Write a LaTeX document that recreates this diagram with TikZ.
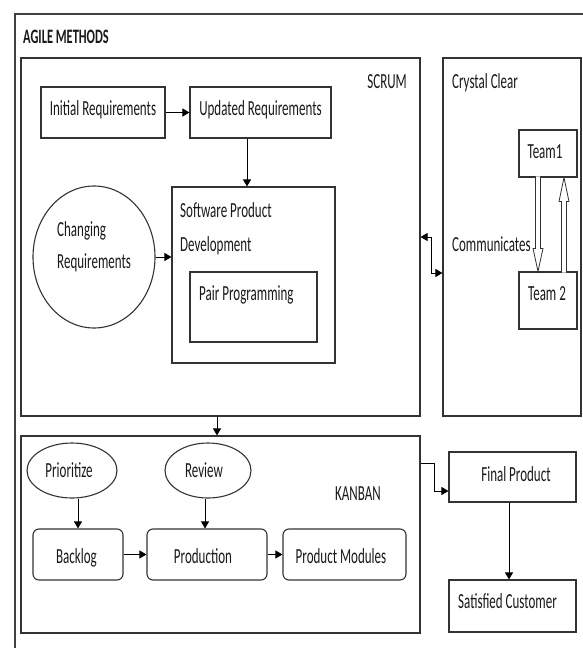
\documentclass[tikz,border=0pt]{standalone}
\usepackage{fontspec}
\setmainfont{Carlito}[FakeStretch=0.605]
\usetikzlibrary{arrows.meta,fit,shapes.geometric,calc}
\begin{document}
\begin{tikzpicture}[x=1pt,y=-1pt,
  line join=miter,
  frame/.style={draw=black!80,line width=1.1pt,inner sep=0pt},
  box/.style={frame,fit={#1}},
  rbox/.style={frame,fit={#1},rounded corners=6pt},
  txt/.style={font=\fontsize{21.5}{26}\selectfont,inner sep=0pt,text=black!90},
  arr/.style={draw=black,line width=0.9pt,-{Triangle[length=7pt,width=8pt]}},
  dblarr/.style={draw=black,line width=0.9pt,{Triangle[length=7pt,width=8pt]}-{Triangle[length=7pt,width=8pt]}},
  hollow/.style={draw=black!80,line width=0.8pt,fill=white}
]
\useasboundingbox (0,0) rectangle (582,648);
% outer frame (cropped at right and bottom)
\coordinate (o1) at (15,700);
\coordinate (o2) at (15,14);
\coordinate (o3) at (640,14);
\draw[black!75,line width=1.5pt] (o1) -- (o2) -- (o3);
\node[txt,anchor=base west,font=\fontsize{20.5}{24}\selectfont\bfseries] (title) at (23,43) {AGILE METHODS};

% SCRUM
\node[box={(21,58) (420,416)}] (scrum) {};
\node[txt,anchor=base east] (scrumT) at (407,88) {SCRUM};
\node[box={(41,87) (165,138)}] (init) {};
\node[txt,anchor=base] (initT) at (103,115) {Initial Requirements};
\node[box={(190,87) (331,138)}] (upd) {};
\node[txt,anchor=base] (updT) at (260.5,115) {Updated Requirements};
\node[box={(172,187) (335,363)}] (spd) {};
\node[txt,anchor=base west] (spdT1) at (180,217) {Software Product};
\node[txt,anchor=base west] (spdT2) at (180,251) {Development};
\node[box={(190,272) (317,342)}] (pair) {};
\node[txt,anchor=base west] (pairT) at (199,300) {Pair Programming};
\node[frame,ellipse,minimum width=122pt,minimum height=142pt] (cr) at (94,257) {};
\node[txt,anchor=base west] (crT1) at (57,236) {Changing};
\node[txt,anchor=base west] (crT2) at (57,268) {Requirements};

\draw[arr] (init) -- (upd);
\draw[arr] ([xshift=-13.5pt]upd.south) -- ([xshift=-13.5pt]upd.south |- spd.north);
\draw[arr] (cr.east) -- (cr.east -| spd.west);

% Crystal Clear
\node[box={(443,58) (581,416)}] (crystal) {};
\node[txt,anchor=base west] (crystalT) at (452,88) {Crystal Clear};
\node[box={(519,130) (577,177)}] (t1) {};
\node[txt,anchor=base] (t1T) at (545,158) {Team1};
\node[box={(519,272) (577,329)}] (t2) {};
\node[txt,anchor=base] (t2T) at (547,300) {Team 2};
\node[txt,anchor=base west] (comm) at (452,251) {Communicates};
\draw[hollow,shift={($(t2.north)+(-10,0)$)}] (-2.5,-95) -- (-2.5,-23) -- (-5,-23) -- (0,0) -- (5,-23) -- (2.5,-23) -- (2.5,-95);
\draw[hollow,shift={($(t1.south)+(16,0)$)}] (-2.5,95) -- (-2.5,24) -- (-5,24) -- (0,0) -- (5,24) -- (2.5,24) -- (2.5,95);

\draw[dblarr] (scrum.east) -- ++(11,0) |- ([yshift=-36pt]crystal.west);

% KANBAN
\node[box={(21,436) (420,633)}] (kanban) {};
\node[txt,anchor=base west] (kanbanT) at (335,500) {KANBAN};
\draw[arr] ([xshift=-3.5pt]scrum.south) -- ([xshift=-3.5pt]scrum.south |- kanban.north);
\node[frame,ellipse,minimum width=90pt,minimum height=55pt] (prio) at (72,470.5) {};
\node[txt,anchor=base] (prioT) at (69,477) {Prioritize};
\node[frame,ellipse,minimum width=86pt,minimum height=55pt] (rev) at (208,470.5) {};
\node[txt,anchor=base] (revT) at (204,477) {Review};
\node[rbox={(33,529) (123,580)}] (back) {};
\node[txt,anchor=base] (backT) at (76.5,563) {Backlog};
\node[rbox={(147,529) (267,580)}] (prod) {};
\node[txt,anchor=base] (prodT) at (203,563) {Production};
\node[rbox={(283,529) (406,580)}] (mods) {};
\node[txt,anchor=base] (modsT) at (341,563) {Product Modules};
\draw[arr] (prio.south -| back.north) -- (back.north);
\draw[arr] ([xshift=-3pt]rev.south) -- ([xshift=-3pt]rev.south |- prod.north);
\draw[arr] (back) -- (prod);
\draw[arr] (prod) -- (mods);

% Final product / customer
\node[box={(449,452) (576,502)}] (final) {};
\node[txt,anchor=base] (finalT) at (516,481) {Final Product};
\node[box={(449,580) (576,632)}] (sat) {};
\node[txt,anchor=base west] (satT) at (458,608) {Satisfied Customer};
\draw[arr] ([yshift=71.5pt]kanban.east) -- ++(14,0) |- ([yshift=-14pt]final.west);
\draw[arr] ([xshift=-3.5pt]final.south) -- ([xshift=-3.5pt]final.south |- sat.north);
\end{tikzpicture}
\end{document}
